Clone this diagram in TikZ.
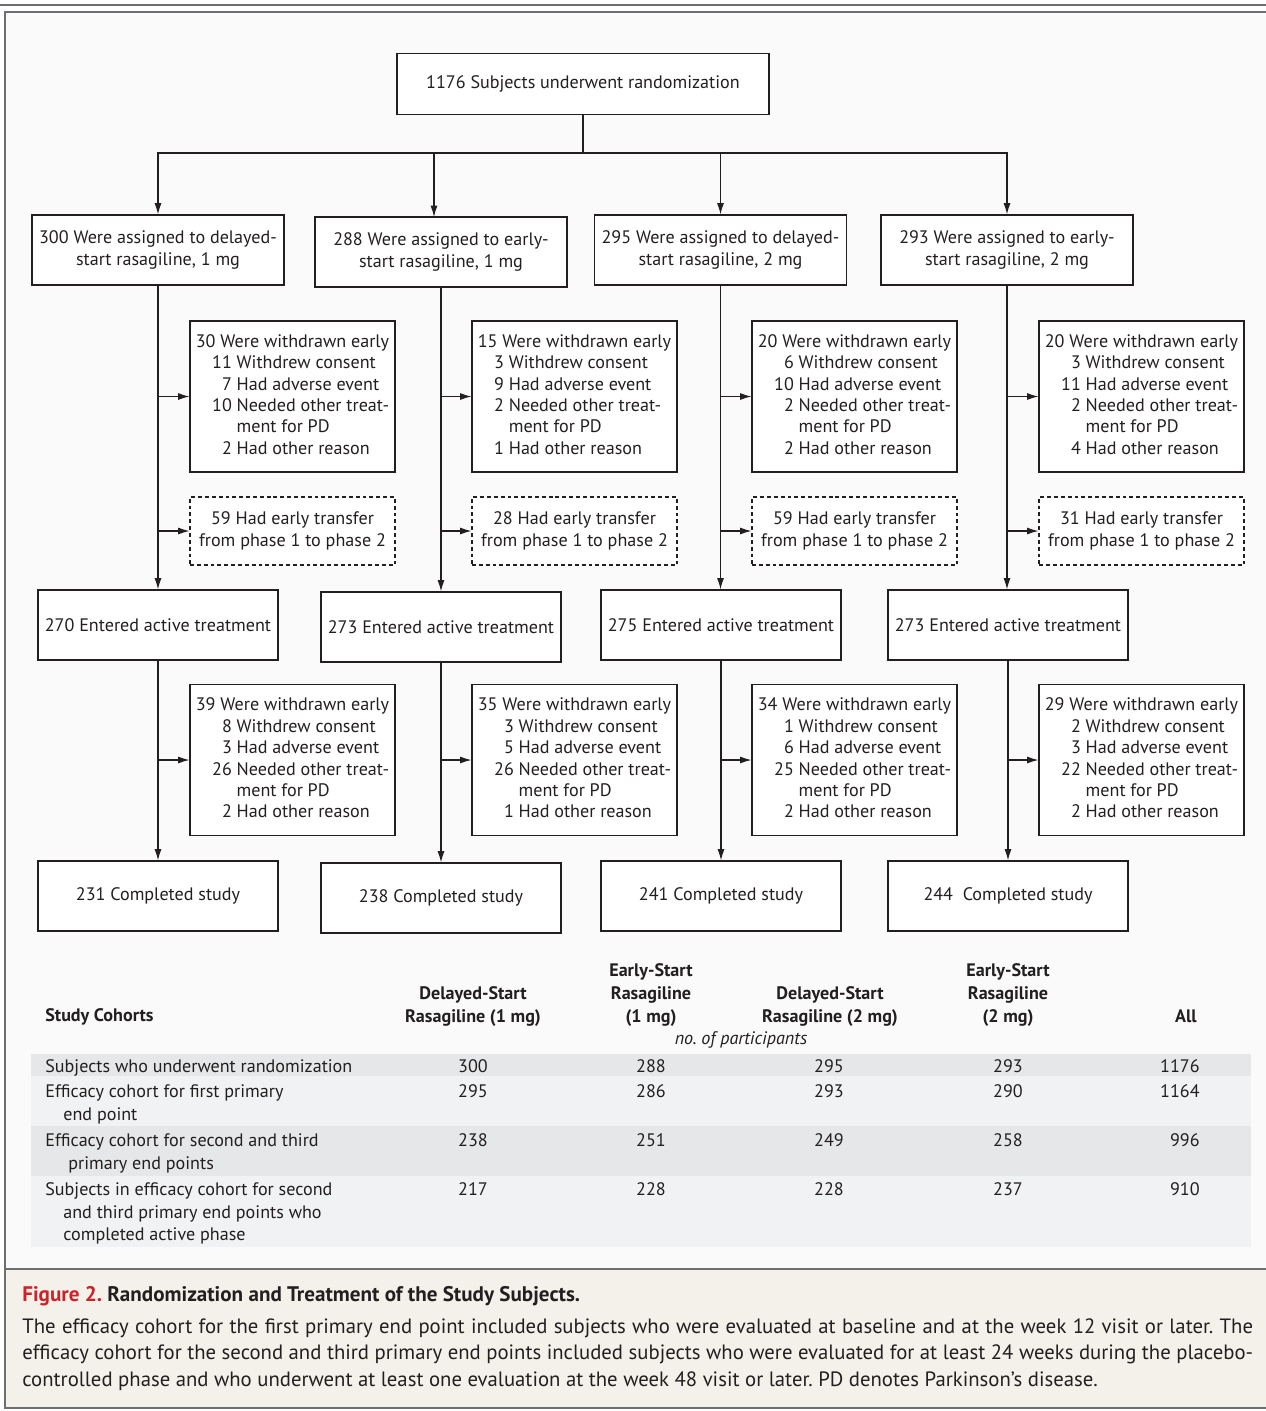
\documentclass[tikz,border=0pt]{standalone}
\usepackage{fontspec}
\setmainfont{PT Sans}
\usepackage{tikz}
\usetikzlibrary{arrows.meta}

\definecolor{ink}{HTML}{231F20}
\definecolor{frame}{HTML}{6D6E71}
\definecolor{panel}{HTML}{FAFAFA}
\definecolor{bandA}{HTML}{E6E7E8}
\definecolor{bandB}{HTML}{F1F2F3}
\definecolor{capbg}{HTML}{F4F1EB}
\definecolor{figred}{HTML}{CC2229}

% list of reasons in a withdrawal box
\newcommand{\withdrawn}[5]{%
  \begin{tabular}{@{\hspace{0.9em}}r@{\ }l@{}}
    \multicolumn{2}{@{}l@{}}{#1 Were withdrawn early}\\
    #2 & Withdrew consent\\
    #3 & Had adverse event\\
    #4 & Needed other treat-\\
       & ment for PD\\
    #5 & Had other reason
  \end{tabular}}

\begin{document}
\frenchspacing
\begin{tikzpicture}[x=0.02cm, y=-0.02cm,
    every node/.style={text=ink, font=\fontsize{10.3}{12.2}\selectfont},
    box/.style={draw=ink, line width=0.65pt, fill=white, inner sep=0pt, align=center},
    wide/.style={box, minimum width=5.04cm, minimum height=1.4cm},
    mid/.style={box, minimum width=4.8cm, minimum height=1.4cm},
    why/.style={box, minimum width=4.1cm, minimum height=3.02cm},
    moved/.style={box, dash pattern=on 2.2pt off 1.7pt, minimum width=4.1cm, minimum height=1.36cm},
    link/.style={draw=ink, line width=0.65pt},
    arr/.style={link, -{Latex[length=6.5pt,width=4pt]}},
    rim/.style={draw=frame, line width=1.1pt},
    head/.style={font=\fontsize{10.3}{12.2}\selectfont\bfseries, anchor=base, inner sep=0pt},
    cell/.style={anchor=base, inner sep=0pt},
    rowlab/.style={anchor=base west, inner sep=0pt},
    note/.style={rowlab, font=\fontsize{11.8}{15}\selectfont}]
\useasboundingbox (0,0) rectangle (1266,1411);

% panel and caption area
\fill[panel] (5,12) rectangle (1272,1269);
\fill[capbg] (5,1269) rectangle (1272,1408);
\draw[rim] (0,5) -- (1266,5);
\draw[rim] (1272,12) -- (5,12) -- (5,1408) -- (1272,1408);
\draw[rim] (5,1269) -- (1272,1269);

% flow chart
\node[box, minimum width=7.44cm, minimum height=1.22cm] (top) at (583,84) {1176 Subjects underwent randomization};

\node[wide] (asg1) at (158,250) {300 Were assigned to delayed-\\start rasagiline, 1 mg};
\node[wide] (asg2) at (441,252) {288 Were assigned to early-\\start rasagiline, 1 mg};
\node[wide] (asg3) at (720.5,250) {295 Were assigned to delayed-\\start rasagiline, 2 mg};
\node[wide] (asg4) at (1007,250) {293 Were assigned to early-\\start rasagiline, 2 mg};

\node[why] (wdA1) at (292.5,396.5) {\withdrawn{30}{11}{7}{10}{2}};
\node[why] (wdA2) at (574.5,396.5) {\withdrawn{15}{3}{9}{2}{1}};
\node[why] (wdA3) at (854.5,396.5) {\withdrawn{20}{6}{10}{2}{2}};
\node[why] (wdA4) at (1141.5,396.5) {\withdrawn{20}{3}{11}{2}{4}};

\node[moved] (xfer1) at (292.5,531) {59 Had early transfer\\from phase 1 to phase 2};
\node[moved] (xfer2) at (574.5,531) {28 Had early transfer\\from phase 1 to phase 2};
\node[moved] (xfer3) at (854.5,531) {59 Had early transfer\\from phase 1 to phase 2};
\node[moved] (xfer4) at (1141.5,531) {31 Had early transfer\\from phase 1 to phase 2};

\node[mid] (act1) at (158,625) {270 Entered active treatment};
\node[mid] (act2) at (441,627) {273 Entered active treatment};
\node[mid] (act3) at (721,625) {275 Entered active treatment};
\node[mid] (act4) at (1008,625) {273 Entered active treatment};

\node[why] (wdB1) at (292.5,760) {\withdrawn{39}{8}{3}{26}{2}};
\node[why] (wdB2) at (574.5,760) {\withdrawn{35}{3}{5}{26}{1}};
\node[why] (wdB3) at (854.5,760) {\withdrawn{34}{1}{6}{25}{2}};
\node[why] (wdB4) at (1141.5,760) {\withdrawn{29}{2}{3}{22}{2}};

\node[mid] (done1) at (158,896) {231 Completed study};
\node[mid] (done2) at (441,898) {238 Completed study};
\node[mid] (done3) at (721,896) {241 Completed study};
\node[mid] (done4) at (1008,896) {244\ \ Completed study};

\coordinate (split) at (583,153);
\coordinate (in2) at (434,217);
\draw[link] (top) -- (split);
\draw[arr] (split) -| (asg1);
\draw[arr] (split) -| (in2);
\draw[arr] (split) -| (asg3);
\draw[arr] (split) -| (asg4);

\coordinate (brA1) at (158,396.5);
\coordinate (brA2) at (441,396.5);
\coordinate (brA3) at (720.5,396.5);
\coordinate (brA4) at (1007,396.5);
\coordinate (brX1) at (158,531);
\coordinate (brX2) at (441,531);
\coordinate (brX3) at (720.5,531);
\coordinate (brX4) at (1007,531);
\coordinate (brB1) at (158,760);
\coordinate (brB2) at (441,760);
\coordinate (brB3) at (721,760);
\coordinate (brB4) at (1008,760);

\draw[arr] (asg1) -- (act1);
\draw[arr] (asg2) -- (act2);
\draw[arr] (asg3) -- (asg3 |- act3.north);
\draw[arr] (asg4) -- (asg4 |- act4.north);
\draw[arr] (brA1) -- (wdA1);
\draw[arr] (brA2) -- (wdA2);
\draw[arr] (brA3) -- (wdA3);
\draw[arr] (brA4) -- (wdA4);
\draw[arr] (brX1) -- (xfer1);
\draw[arr] (brX2) -- (xfer2);
\draw[arr] (brX3) -- (xfer3);
\draw[arr] (brX4) -- (xfer4);

\draw[arr] (act1) -- (done1);
\draw[arr] (act2) -- (done2);
\draw[arr] (act3) -- (done3);
\draw[arr] (act4) -- (done4);
\draw[arr] (brB1) -- (wdB1);
\draw[arr] (brB2) -- (wdB2);
\draw[arr] (brB3) -- (wdB3);
\draw[arr] (brB4) -- (wdB4);

% table of cohorts
\fill[bandA] (31,1054) rectangle (1251,1076);
\fill[bandB] (31,1076) rectangle (1251,1126);
\fill[bandA] (31,1126) rectangle (1251,1176);
\fill[bandB] (31,1176) rectangle (1251,1247);

\node[head, anchor=base west] (hcoh) at (45,1021) {Study Cohorts};
\node[head] (h1a) at (473,999) {Delayed-Start};
\node[head] (h1b) at (473,1022) {Rasagiline (1 mg)};
\node[head] (h2a) at (651,976) {Early-Start};
\node[head] (h2b) at (651,999) {Rasagiline};
\node[head] (h2c) at (651,1022) {(1 mg)};
\node[head] (h3a) at (830,999) {Delayed-Start};
\node[head] (h3b) at (830,1022) {Rasagiline (2 mg)};
\node[head] (h4a) at (1008,976) {Early-Start};
\node[head] (h4b) at (1008,999) {Rasagiline};
\node[head] (h4c) at (1008,1022) {(2 mg)};
\node[head] (hall) at (1186,1022) {All};
\node[cell, font=\fontsize{10.3}{12.2}\selectfont\itshape] (unit) at (741,1044) {no. of participants};

\node[rowlab] (lab1) at (45,1072) {Subjects who underwent randomization};
\node[rowlab] (lab2) at (45,1097) {Efficacy cohort for first primary};
\node[rowlab] (lab2b) at (63,1120) {end point};
\node[rowlab] (lab3) at (45,1146) {Efficacy cohort for second and third};
\node[rowlab] (lab3b) at (68,1169) {primary end points};
\node[rowlab] (lab4) at (45,1195) {Subjects in efficacy cohort for second};
\node[rowlab] (lab4b) at (63,1218) {and third primary end points who};
\node[rowlab] (lab4c) at (63,1240) {completed active phase};

\node[cell] (v11) at (473,1072) {300};
\node[cell] (v12) at (651,1072) {288};
\node[cell] (v13) at (829,1072) {295};
\node[cell] (v14) at (1008,1072) {293};
\node[cell, anchor=base east] (v15) at (1200,1072) {1176};
\node[cell] (v21) at (473,1097) {295};
\node[cell] (v22) at (651,1097) {286};
\node[cell] (v23) at (829,1097) {293};
\node[cell] (v24) at (1008,1097) {290};
\node[cell, anchor=base east] (v25) at (1200,1097) {1164};
\node[cell] (v31) at (473,1146) {238};
\node[cell] (v32) at (651,1146) {251};
\node[cell] (v33) at (829,1146) {249};
\node[cell] (v34) at (1008,1146) {258};
\node[cell, anchor=base east] (v35) at (1200,1146) {996};
\node[cell] (v41) at (473,1195) {217};
\node[cell] (v42) at (651,1195) {228};
\node[cell] (v43) at (829,1195) {228};
\node[cell] (v44) at (1008,1195) {237};
\node[cell, anchor=base east] (v45) at (1200,1195) {910};

% caption
\node[rowlab, font=\fontsize{12}{15}\selectfont\bfseries] (capt0) at (22,1301)
  {\textcolor{figred}{Figure 2.} Randomization and Treatment of the Study Subjects.};
\node[note] (capt1) at (22,1333)
  {\makebox[24.62cm][s]{The efficacy cohort for the first primary end point included subjects who were evaluated at baseline and at the week 12 visit or later. The}};
\node[note] (capt2) at (22,1359)
  {\makebox[24.62cm][s]{efficacy cohort for the second and third primary end points included subjects who were evaluated for at least 24 weeks during the placebo-}};
\node[note] (capt3) at (22,1386)
  {controlled phase and who underwent at least one evaluation at the week 48 visit or later. PD denotes Parkinson’s disease.};
\end{tikzpicture}
\end{document}
